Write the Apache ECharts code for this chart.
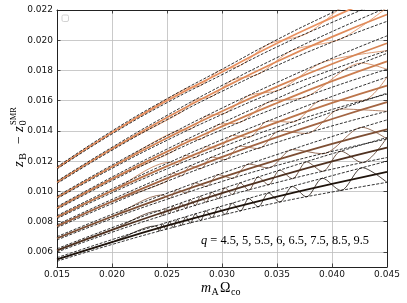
<!DOCTYPE html>
<html><head><meta charset="utf-8">
<script src="https://cdn.jsdelivr.net/npm/echarts@6/dist/echarts.min.js"></script>
<style>html,body{margin:0;padding:0;background:#fff}#c{width:407px;height:303px}</style>
</head><body><div id="c"></div>
<script>
// ---- data ----
const xTicks = [0.015, 0.020, 0.025, 0.030, 0.035, 0.040, 0.045];
const yTicks = [0.006, 0.008, 0.010, 0.012, 0.014, 0.016, 0.018, 0.020, 0.022];
const qValues = ['4.5', '5', '5.5', '6', '6.5', '7.5', '8.5', '9.5'];

// mean (thick) curves, values at xTicks
const meanCurves = [
  [0.01155, 0.01390, 0.01600, 0.01790, 0.01980, 0.02150, 0.02310],
  [0.01060, 0.01282, 0.01489, 0.01681, 0.01859, 0.02022, 0.02170],
  [0.00960, 0.01163, 0.01353, 0.01530, 0.01693, 0.01843, 0.01980],
  [0.00890, 0.01083, 0.01263, 0.01430, 0.01585, 0.01729, 0.01860],
  [0.00830, 0.01004, 0.01167, 0.01318, 0.01457, 0.01585, 0.01700],
  [0.00770, 0.00933, 0.01086, 0.01228, 0.01359, 0.01479, 0.01590],
  [0.00690, 0.00834, 0.00968, 0.01093, 0.01208, 0.01314, 0.01410],
  [0.00610, 0.00745, 0.00870, 0.00988, 0.01097, 0.01198, 0.01290],
  [0.00550, 0.00665, 0.00773, 0.00873, 0.00966, 0.01050, 0.01130]
];
// upper dashed envelopes, values at xTicks
const upperEnvelopes = [
  [0.01162, 0.01400, 0.01613, 0.01808, 0.02004, 0.02182, 0.02352],
  [0.01068, 0.01292, 0.01503, 0.01701, 0.01885, 0.02057, 0.02216],
  [0.00968, 0.01174, 0.01368, 0.01551, 0.01721, 0.01881, 0.02029],
  [0.00899, 0.01095, 0.01280, 0.01453, 0.01615, 0.01770, 0.01913],
  [0.00840, 0.01017, 0.01185, 0.01342, 0.01489, 0.01628, 0.01756],
  [0.00780, 0.00947, 0.01105, 0.01254, 0.01393, 0.01525, 0.01650],
  [0.00701, 0.00848, 0.00988, 0.01120, 0.01244, 0.01363, 0.01473],
  [0.00621, 0.00760, 0.00891, 0.01017, 0.01135, 0.01249, 0.01357],
  [0.00562, 0.00681, 0.00795, 0.00903, 0.01006, 0.01104, 0.01200]
];
// lower dashed envelopes, values at xTicks
const lowerEnvelopes = [
  [0.01148, 0.01380, 0.01587, 0.01772, 0.01956, 0.02118, 0.02268],
  [0.01052, 0.01272, 0.01475, 0.01662, 0.01833, 0.01987, 0.02125],
  [0.00952, 0.01152, 0.01338, 0.01509, 0.01665, 0.01805, 0.01931],
  [0.00881, 0.01071, 0.01247, 0.01408, 0.01555, 0.01689, 0.01808],
  [0.00820, 0.00991, 0.01149, 0.01294, 0.01425, 0.01542, 0.01644],
  [0.00760, 0.00919, 0.01067, 0.01203, 0.01325, 0.01433, 0.01530],
  [0.00679, 0.00820, 0.00948, 0.01066, 0.01172, 0.01265, 0.01347],
  [0.00599, 0.00730, 0.00849, 0.00960, 0.01059, 0.01147, 0.01224],
  [0.00538, 0.00649, 0.00751, 0.00843, 0.00926, 0.00996, 0.01060]
];
// thin oscillating curves: [x, y] at turning points
const oscillations = [
  [[0.015,0.01155],[0.020,0.0139],[0.02671,0.0168],[0.02805,0.017],[0.02966,0.01795],[0.03166,0.01833],[0.03422,0.01973],[0.03768,0.02043],[0.04275,0.02276],[0.045,0.02268]],
  [[0.015,0.0106],[0.020,0.01282],[0.02631,0.01524],[0.02758,0.01605],[0.02909,0.01628],[0.03094,0.01736],[0.03329,0.01775],[0.0364,0.01933],[0.04081,0.02009],[0.045,0.02216]],
  [[0.015,0.0096],[0.020,0.01163],[0.02593,0.01402],[0.02713,0.01411],[0.02855,0.01498],[0.03028,0.01518],[0.03244,0.01634],[0.03525,0.01672],[0.03914,0.01853],[0.045,0.01931]],
  [[0.015,0.0089],[0.020,0.01083],[0.02557,0.01265],[0.02671,0.01339],[0.02805,0.01345],[0.02966,0.01441],[0.03166,0.01457],[0.03422,0.0159],[0.03768,0.01627],[0.04275,0.01849],[0.045,0.01808]],
  [[0.015,0.0083],[0.020,0.01004],[0.02523,0.01192],[0.02593,0.01176],[0.02671,0.01239],[0.02758,0.01224],[0.02855,0.01296],[0.02966,0.01284],[0.03094,0.0137],[0.03244,0.01358],[0.03422,0.01466],[0.0364,0.01458],[0.03914,0.01604],[0.04275,0.01598],[0.045,0.01756]],
  [[0.015,0.0077],[0.020,0.00933],[0.0249,0.01064],[0.02557,0.01122],[0.02631,0.01103],[0.02713,0.01168],[0.02805,0.0115],[0.02909,0.01227],[0.03028,0.0121],[0.03166,0.013],[0.03329,0.01283],[0.03525,0.014],[0.03768,0.01383],[0.04081,0.01545],[0.045,0.0153]],
  [[0.015,0.0069],[0.020,0.00834],[0.02459,0.00977],[0.02523,0.00953],[0.02593,0.01013],[0.02671,0.00988],[0.02758,0.01056],[0.02855,0.01032],[0.02966,0.01111],[0.03094,0.01086],[0.03244,0.01181],[0.03422,0.01155],[0.0364,0.01277],[0.03914,0.01249],[0.04275,0.01424],[0.045,0.01347]],
  [[0.015,0.0061],[0.020,0.00745],[0.02429,0.00872],[0.02459,0.00839],[0.0249,0.00888],[0.02523,0.00854],[0.02557,0.00905],[0.02593,0.0087],[0.02631,0.00924],[0.02671,0.00887],[0.02713,0.00945],[0.02758,0.00906],[0.02805,0.00968],[0.02855,0.00928],[0.02909,0.00994],[0.02966,0.00952],[0.03028,0.01024],[0.03094,0.00979],[0.03166,0.01056],[0.03244,0.01008],[0.03329,0.01095],[0.03422,0.01044],[0.03525,0.01141],[0.0364,0.01084],[0.03768,0.01196],[0.03914,0.01132],[0.04081,0.01266],[0.04275,0.0119],[0.045,0.01357]],
  [[0.015,0.0055],[0.020,0.00665],[0.0240,0.00772],[0.02429,0.00737],[0.02459,0.00786],[0.0249,0.00749],[0.02523,0.008],[0.02557,0.00761],[0.02593,0.00815],[0.02631,0.00775],[0.02671,0.00832],[0.02713,0.0079],[0.02758,0.00851],[0.02805,0.00807],[0.02855,0.00872],[0.02909,0.00826],[0.02966,0.00896],[0.03028,0.00848],[0.03094,0.00922],[0.03166,0.0087],[0.03244,0.00953],[0.03329,0.00898],[0.03422,0.0099],[0.03525,0.0093],[0.0364,0.01033],[0.03768,0.00964],[0.03914,0.01087],[0.04081,0.01006],[0.04275,0.01157],[0.045,0.0106]]
];

// ---- styles ----
const lineColors = ['#e99160', '#e08b5a', '#d68555', '#cb7e50', '#bb744a', '#a26442', '#7d4e33', '#4f3120', '#1e130b'];
const frameColor = '#222';
const gridColor = '#bdbdbd';
const serif = '"Liberation Serif", serif';

const series = [];
meanCurves.forEach((ys, i) => {
  series.push({
    type: 'line', smooth: true, symbol: 'none', silent: true,
    data: xTicks.map((x, j) => [x, ys[j]]),
    lineStyle: { color: lineColors[i], width: 1.8 }, z: 2
  });
});
oscillations.forEach((pts, i) => {
  series.push({
    type: 'line', smooth: 0.3, symbol: 'none', silent: true, data: pts,
    lineStyle: { color: lineColors[i], width: 0.8 }, z: 3
  });
});
[upperEnvelopes, lowerEnvelopes].forEach(env => {
  env.forEach(ys => {
    series.push({
      type: 'line', smooth: true, symbol: 'none', silent: true,
      data: xTicks.map((x, j) => [x, ys[j]]),
      lineStyle: { color: '#000', width: 0.8, type: [3, 1.5] }, z: 4
    });
  });
});

const axisLine = { show: true, onZero: false, lineStyle: { color: frameColor, width: 1 } };
const tick = { show: true, inside: true, length: 3.5, lineStyle: { color: frameColor, width: 0.8 } };
const lab = { fontSize: 9, fontFamily: 'DejaVu Sans', color: '#111', formatter: v => v.toFixed(3) };

const chart = echarts.init(document.getElementById('c'), null, { renderer: 'canvas' });
chart.setOption({
  animation: false,
  backgroundColor: '#fff',
  grid: { left: 57, right: 20, top: 10, bottom: 36, containLabel: false },
  xAxis: [
    { type: 'value', min: 0.015, max: 0.045, interval: 0.005, position: 'bottom',
      axisLine, axisTick: tick, axisLabel: Object.assign({ margin: 3 }, lab),
      splitLine: { show: true, lineStyle: { color: gridColor, width: 0.8 } } },
    { type: 'value', min: 0.015, max: 0.045, interval: 0.005, position: 'top',
      axisLine, axisTick: tick, axisLabel: { show: false }, splitLine: { show: false } }
  ],
  yAxis: [
    { type: 'value', min: 0.005, max: 0.022, position: 'left',
      axisLine, axisTick: Object.assign({ customValues: yTicks }, tick),
      axisLabel: Object.assign({ customValues: yTicks, margin: 4 }, lab),
      splitLine: { show: true, lineStyle: { color: gridColor, width: 0.8 } } },
    { type: 'value', min: 0.005, max: 0.022, position: 'right',
      axisLine, axisTick: Object.assign({ customValues: yTicks }, tick),
      axisLabel: { show: false }, splitLine: { show: false } }
  ],
  series,
  graphic: [
    { type: 'rect', shape: { x: 62, y: 15, width: 6.5, height: 6.5, r: 1.5 },
      style: { fill: '#fff', stroke: '#c8c8c8', lineWidth: 0.8 }, z: 100 },
    { type: 'text', x: 201, y: 241, z: 100,
      style: { text: '{i|q}{n| = ' + qValues.join(', ') + '}', verticalAlign: 'middle',
        rich: { i: { fontFamily: serif, fontStyle: 'italic', fontSize: 12.4, fill: '#000' },
                n: { fontFamily: serif, fontSize: 12.4, fill: '#000' } } } },
    { type: 'group', x: 19.5, y: 167, rotation: Math.PI / 2, z: 100, children: [
      { type: 'text', x: 0, y: 0, style: { text: 'z', font: 'italic 15px ' + serif, fill: '#000', verticalAlign: 'middle' } },
      { type: 'text', x: 7, y: 3.5, style: { text: 'B', font: '10.5px ' + serif, fill: '#000', verticalAlign: 'middle' } },
      { type: 'text', x: 23, y: 0, style: { text: '\u2212', font: '14px ' + serif, fill: '#000', verticalAlign: 'middle' } },
      { type: 'text', x: 35, y: 0, style: { text: 'z', font: 'italic 15px ' + serif, fill: '#000', verticalAlign: 'middle' } },
      { type: 'text', x: 41.5, y: 3.5, style: { text: '0', font: '10.5px ' + serif, fill: '#000', verticalAlign: 'middle' } },
      { type: 'text', x: 42, y: -5.5, style: { text: 'SMR', font: '8.5px ' + serif, fill: '#000', verticalAlign: 'middle' } }
    ] },
    { type: 'group', x: 201, y: 288.5, z: 100, children: [
      { type: 'text', x: 0, y: 0, style: { text: 'm', font: 'italic 14px ' + serif, fill: '#000', verticalAlign: 'middle' } },
      { type: 'text', x: 10.5, y: 3.5, style: { text: 'A', font: '10px ' + serif, fill: '#000', verticalAlign: 'middle' } },
      { type: 'text', x: 19, y: 0, style: { text: '\u03A9', font: '14px ' + serif, fill: '#000', verticalAlign: 'middle' } },
      { type: 'text', x: 30, y: 3.5, style: { text: 'co', font: '10px ' + serif, fill: '#000', verticalAlign: 'middle' } }
    ] }
  ]
});
</script>
</body></html>
